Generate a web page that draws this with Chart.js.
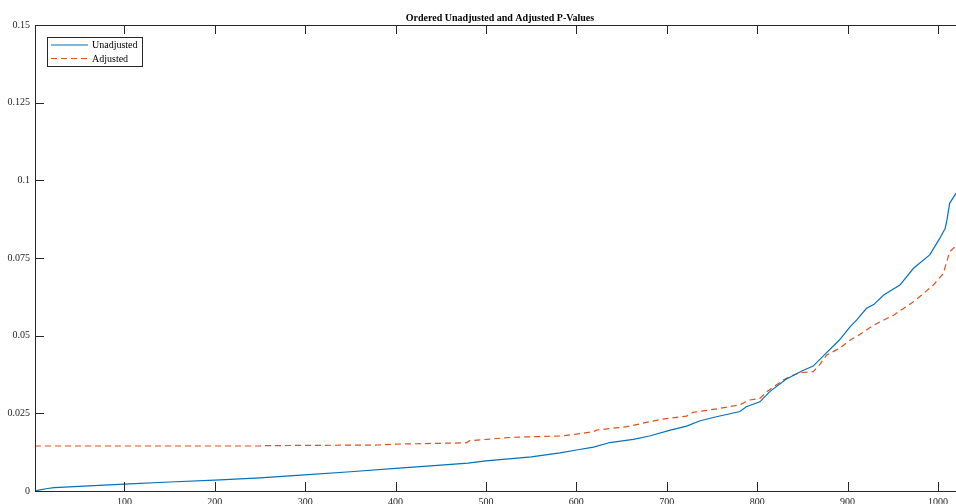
<!DOCTYPE html>
<html>
<head>
<meta charset="utf-8">
<title>Ordered Unadjusted and Adjusted P-Values</title>
<script src="https://cdn.jsdelivr.net/npm/chart.js@4.4.1/dist/chart.umd.min.js"></script>
<style>
  html, body { margin: 0; padding: 0; background: #fff; overflow: hidden; }
  #wrap { width: 1000px; height: 504px; }
</style>
</head>
<body>
<div id="wrap"><canvas id="chartP" width="1000" height="504"></canvas></div>
<script>
// values (rank -> p-value)
const rankUnadj = [1, 5, 15, 22, 50, 100, 150, 200, 250, 295, 350, 400, 450, 480, 500, 550, 582, 600, 619, 637, 663, 681, 704, 722, 737, 755, 781, 788, 803, 814, 832, 850, 862, 876, 891, 903, 910, 921, 929, 940, 958, 973, 991, 1002, 1008, 1010, 1013, 1020, 1024];
const pUnadj = [0, 0.0003, 0.0008, 0.0011, 0.0015, 0.0022, 0.0029, 0.0035, 0.0042, 0.0051, 0.0062, 0.0073, 0.0083, 0.009, 0.0097, 0.011, 0.0123, 0.0132, 0.0141, 0.0156, 0.0166, 0.0177, 0.0196, 0.0209, 0.0226, 0.0239, 0.0256, 0.0271, 0.0287, 0.032, 0.036, 0.0387, 0.0402, 0.0443, 0.0486, 0.0529, 0.055, 0.0588, 0.06, 0.0631, 0.0663, 0.0717, 0.076, 0.0813, 0.0845, 0.0872, 0.0926, 0.0958, 0.0972];

const rankAdj = [1, 250, 252, 380, 400, 478, 482, 530, 582, 600, 619, 622, 656, 681, 695, 722, 729, 759, 781, 792, 803, 811, 821, 829, 836, 847, 862, 869, 877, 891, 903, 910, 929, 951, 973, 995, 1006, 1013, 1020, 1024];
const pAdj = [0.01448, 0.01448, 0.0146, 0.0148, 0.0151, 0.0155, 0.0162, 0.0173, 0.0177, 0.0183, 0.0191, 0.0196, 0.0207, 0.0223, 0.0231, 0.0241, 0.0253, 0.0266, 0.0278, 0.0293, 0.0298, 0.032, 0.0341, 0.0357, 0.0368, 0.0381, 0.0384, 0.0406, 0.0438, 0.0459, 0.0486, 0.0497, 0.0534, 0.0566, 0.0609, 0.0663, 0.07, 0.077, 0.0789, 0.0795];

const xTicks = [100, 200, 300, 400, 500, 600, 700, 800, 900, 1000];
const yTicks = [0, 0.025, 0.05, 0.075, 0.1, 0.125, 0.15];

const FONT = "'Liberation Serif', 'Times New Roman', serif";
const AXIS = "#262626";

// MATLAB style box, inward ticks and legend inside the axes
const boxPlugin = {
  id: "boxPlugin",
  afterDraw(chart) {
    const { ctx, chartArea: a } = chart;
    const xs = chart.scales.x, ys = chart.scales.y;
    const len = 9;
    ctx.save();
    ctx.strokeStyle = AXIS;
    ctx.lineWidth = 1;
    ctx.strokeRect(a.left + 0.5, a.top + 0.5, a.right - a.left, a.bottom - a.top);
    ctx.beginPath();
    xTicks.forEach(v => {
      const px = Math.round(xs.getPixelForValue(v)) + 0.5;
      ctx.moveTo(px, a.bottom); ctx.lineTo(px, a.bottom - len);
      ctx.moveTo(px, a.top); ctx.lineTo(px, a.top + len);
    });
    yTicks.forEach(v => {
      const py = Math.round(ys.getPixelForValue(v)) + 0.5;
      ctx.moveTo(a.left, py); ctx.lineTo(a.left + len, py);
      ctx.moveTo(a.right, py); ctx.lineTo(a.right - len, py);
    });
    ctx.stroke();

    // legend
    const lx = 47, ly = 37, lw = 95, lh = 29;
    ctx.fillStyle = "#fff";
    ctx.fillRect(lx, ly, lw, lh);
    ctx.strokeRect(lx + 0.5, ly + 0.5, lw, lh);
    ctx.font = "10px " + FONT;
    ctx.textBaseline = "middle";
    chart.data.datasets.forEach((ds, i) => {
      const y = ly + 8 + i * 13.5;
      ctx.strokeStyle = ds.borderColor;
      ctx.lineWidth = ds.borderWidth;
      ctx.setLineDash(ds.borderDash || []);
      ctx.beginPath();
      ctx.moveTo(51, y); ctx.lineTo(88, y);
      ctx.stroke();
      ctx.setLineDash([]);
      ctx.fillStyle = "#000";
      ctx.fillText(ds.label, 92, y + 0.5);
    });
    ctx.restore();
  }
};

new Chart(document.getElementById("chartP").getContext("2d"), {
  type: "line",
  data: {
    datasets: [
      {
        label: "Unadjusted",
        data: rankUnadj.map((r, i) => ({ x: r, y: pUnadj[i] })),
        borderColor: "#0072BD",
        borderWidth: 1.2,
        pointRadius: 0,
        tension: 0,
        fill: false
      },
      {
        label: "Adjusted",
        data: rankAdj.map((r, i) => ({ x: r, y: pAdj[i] })),
        borderColor: "#D95319",
        borderWidth: 1.2,
        borderDash: [6, 4],
        pointRadius: 0,
        tension: 0,
        fill: false
      }
    ]
  },
  options: {
    responsive: false,
    animation: false,
    layout: { padding: 0 },
    plugins: {
      legend: { display: false },
      tooltip: { enabled: false },
      title: {
        display: true,
        text: "Ordered Unadjusted and Adjusted P-Values",
        color: "#000",
        font: { family: FONT, size: 10, weight: "bold" },
        padding: { top: 12, bottom: 1 }
      }
    },
    scales: {
      x: {
        type: "linear",
        min: 1,
        max: 1030,
        grid: { display: false, drawTicks: false },
        border: { display: false },
        afterBuildTicks: s => { s.ticks = xTicks.map(v => ({ value: v })); },
        afterFit: s => { s.height = 13; },
        ticks: {
          color: AXIS,
          padding: 5,
          maxRotation: 0,
          font: { family: FONT, size: 10 },
          callback: v => String(v)
        }
      },
      y: {
        type: "linear",
        position: "left",
        min: 0,
        max: 0.15,
        grid: { display: false, drawTicks: false },
        border: { display: false },
        afterBuildTicks: s => { s.ticks = yTicks.map(v => ({ value: v })); },
        afterFit: s => { s.width = 35; },
        ticks: {
          color: AXIS,
          padding: 5,
          font: { family: FONT, size: 10 },
          callback: v => String(+v.toFixed(3))
        }
      },
      yRight: {
        type: "linear",
        position: "right",
        min: 0,
        max: 0.15,
        grid: { display: false, drawTicks: false },
        border: { display: false },
        ticks: { display: false },
        afterFit: s => { s.width = 35; }
      }
    }
  },
  plugins: [boxPlugin]
});
</script>
</body>
</html>
